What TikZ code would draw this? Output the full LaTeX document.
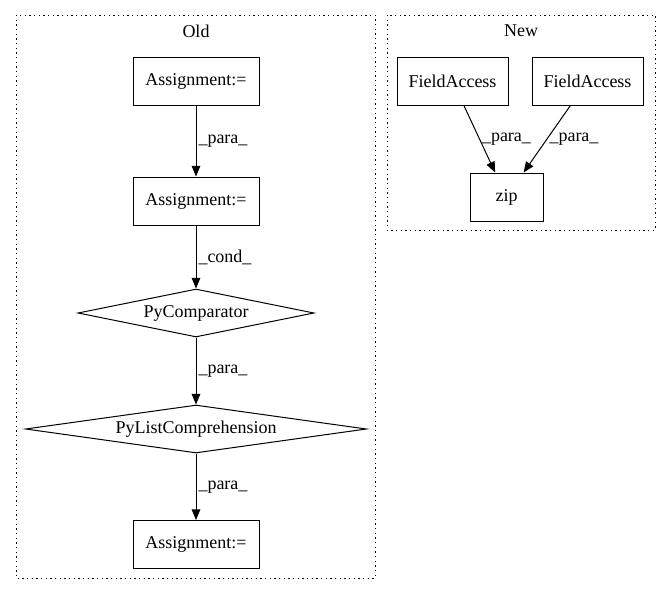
\documentclass[tikz,border=0pt]{standalone}
\usepackage{fontspec}
\setmainfont{Liberation Serif}
\usetikzlibrary{shapes.geometric,arrows.meta}
\begin{document}
\begin{tikzpicture}[x=0.75pt,y=-0.75pt,
  font=\fontsize{13.5pt}{15pt}\selectfont,
  box/.style={draw,line width=0.75pt,rectangle,minimum height=36pt,inner sep=0pt},
  dia/.style={draw,line width=0.75pt,diamond,minimum height=36pt,inner sep=0pt},
  cluster/.style={draw,line width=0.75pt,dash pattern=on 0.9pt off 2.6pt},
  edgeline/.style={line width=0.75pt,-{Triangle[length=8pt,width=6.5pt]}},
  elabel/.style={right,inner sep=1.5pt}]
\useasboundingbox (0,0) rectangle (671,596);
\draw[cluster] (16,15) rectangle (375,578);
\draw[cluster] (387,15) rectangle (655,230);
\node (oldlbl) at (196,31) {Old};
\node (newlbl) at (521,31) {New};
\node[box,minimum width=94.5pt] (a1) at (196,81) {Assignment:=};
\node[box,minimum width=94.5pt] (a2) at (196,201) {Assignment:=};
\node[dia,aspect=4.92,minimum width=177pt] (pc) at (196,313) {PyComparator};
\node[dia,aspect=7.1,minimum width=255.75pt] (plc) at (196,429) {PyListComprehension};
\node[box,minimum width=94.5pt] (a3) at (196,544.5) {Assignment:=};
\node[box,minimum width=83.25pt] (fa1) at (452.5,81) {FieldAccess};
\node[box,minimum width=83.25pt] (fa2) at (587.5,81) {FieldAccess};
\node[box,minimum width=54.75pt] (zip) at (506.5,197) {zip};
\draw[edgeline] (a1) -- node[elabel] {\_para\_} (a2);
\draw[edgeline] (a2) -- node[elabel] {\_cond\_} (pc);
\draw[edgeline] (pc) -- node[elabel] {\_para\_} (plc);
\draw[edgeline] (plc) -- node[elabel] {\_para\_} (a3);
\draw[edgeline] (fa1) -- node[elabel] {\_para\_} (zip);
\draw[edgeline] (fa2) -- node[elabel] {\_para\_} (zip);
\end{tikzpicture}
\end{document}
